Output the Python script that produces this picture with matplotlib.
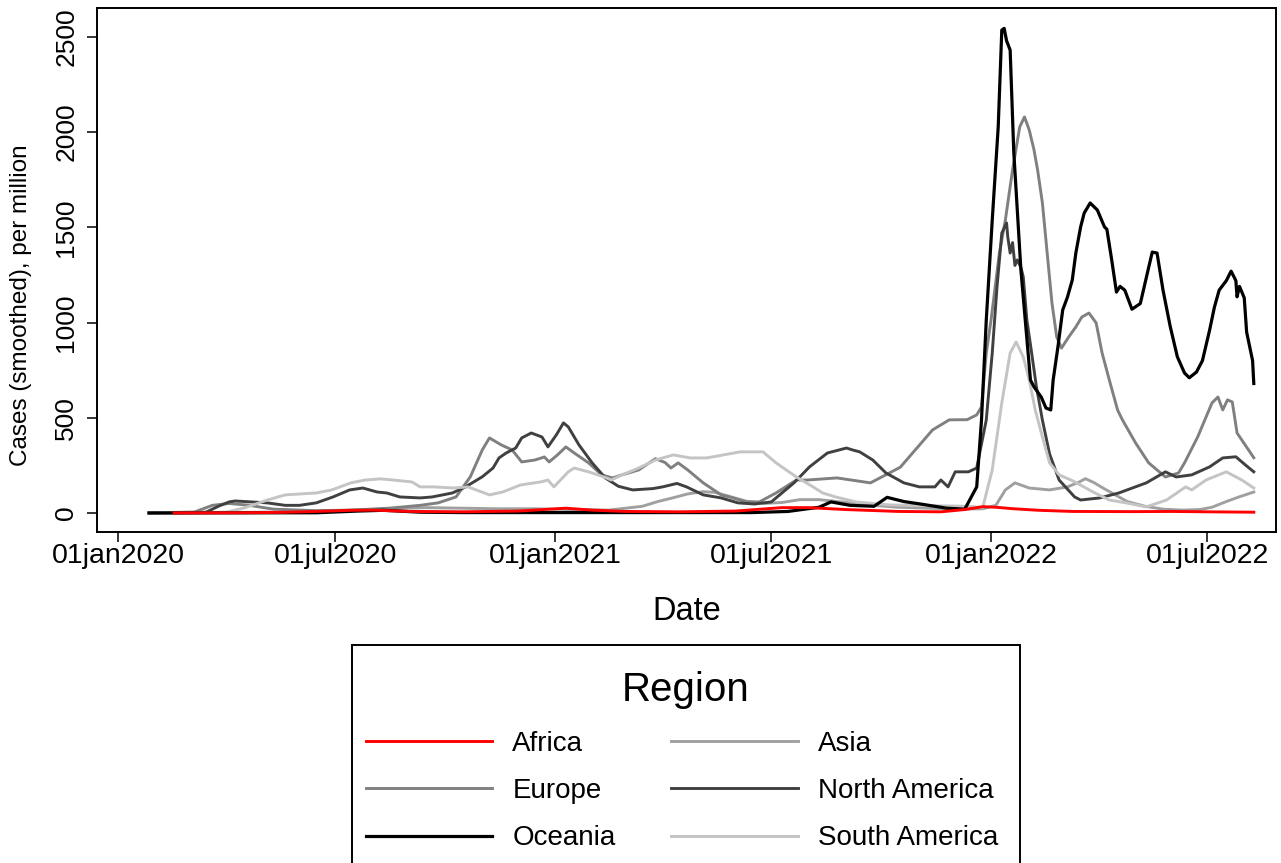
import matplotlib
matplotlib.use("Agg")
import matplotlib.pyplot as plt
import pandas as pd
from matplotlib.patches import Rectangle

# -----------------------------------------
# Data (date, cases per million, smoothed)
# -----------------------------------------
africa = [
    ("2020-02-17", 0), ("2020-04-15", 1), ("2020-05-15", 3), ("2020-06-15", 8),
    ("2020-07-15", 14), ("2020-08-01", 15), ("2020-09-01", 8), ("2020-10-15", 6),
    ("2020-12-01", 10), ("2021-01-10", 25), ("2021-02-01", 15), ("2021-03-01", 8),
    ("2021-04-15", 6), ("2021-06-01", 10), ("2021-07-10", 28), ("2021-08-01", 28),
    ("2021-09-01", 18), ("2021-10-15", 8), ("2021-11-20", 6), ("2021-12-10", 18),
    ("2021-12-25", 33), ("2022-01-05", 30), ("2022-01-20", 22), ("2022-02-10", 14),
    ("2022-03-10", 8), ("2022-05-01", 7), ("2022-06-01", 8), ("2022-07-01", 6),
    ("2022-08-09", 4),
]

asia = [
    ("2020-01-27", 0), ("2020-03-01", 1), ("2020-04-15", 3), ("2020-06-01", 6),
    ("2020-07-15", 15), ("2020-08-15", 22), ("2020-09-15", 28), ("2020-10-15", 25),
    ("2020-11-15", 22), ("2020-12-15", 22), ("2021-01-15", 18), ("2021-02-15", 15),
    ("2021-03-01", 25), ("2021-03-15", 35), ("2021-03-28", 60), ("2021-04-10", 80),
    ("2021-04-22", 100), ("2021-05-05", 112), ("2021-05-15", 108), ("2021-05-28", 85),
    ("2021-06-10", 62), ("2021-06-25", 50), ("2021-07-10", 55), ("2021-07-25", 70),
    ("2021-08-10", 70), ("2021-08-25", 60), ("2021-09-10", 50), ("2021-09-25", 40),
    ("2021-10-15", 30), ("2021-11-10", 25), ("2021-12-01", 20), ("2021-12-25", 22),
    ("2022-01-05", 40), ("2022-01-13", 121), ("2022-01-21", 158), ("2022-02-02", 131),
    ("2022-02-19", 121), ("2022-03-06", 137), ("2022-03-16", 163), ("2022-03-21", 180),
    ("2022-03-28", 160), ("2022-04-05", 130), ("2022-04-15", 95), ("2022-04-25", 60),
    ("2022-05-10", 35), ("2022-05-25", 20), ("2022-06-10", 15), ("2022-06-25", 18),
    ("2022-07-05", 30), ("2022-07-17", 60), ("2022-07-28", 85), ("2022-08-09", 110),
]

europe = [
    ("2020-01-27", 0), ("2020-03-05", 5), ("2020-03-20", 40), ("2020-04-03", 50),
    ("2020-04-20", 40), ("2020-05-10", 20), ("2020-06-15", 12), ("2020-07-15", 15),
    ("2020-08-15", 25), ("2020-09-10", 40), ("2020-09-25", 53), ("2020-10-10", 84),
    ("2020-10-22", 190), ("2020-11-01", 331), ("2020-11-07", 394), ("2020-11-14", 368),
    ("2020-11-17", 357), ("2020-11-26", 331), ("2020-12-04", 268), ("2020-12-15", 278),
    ("2020-12-23", 294), ("2020-12-27", 268), ("2021-01-03", 305), ("2021-01-10", 347),
    ("2021-01-17", 315), ("2021-01-29", 263), ("2021-02-09", 200), ("2021-02-18", 184),
    ("2021-02-26", 200), ("2021-03-12", 226), ("2021-03-26", 285), ("2021-04-03", 265),
    ("2021-04-08", 236), ("2021-04-14", 263), ("2021-04-22", 226), ("2021-05-05", 158),
    ("2021-05-20", 95), ("2021-05-27", 84), ("2021-06-10", 58), ("2021-06-21", 58),
    ("2021-07-05", 105), ("2021-07-22", 173), ("2021-07-31", 173), ("2021-08-25", 184),
    ("2021-09-22", 158), ("2021-10-17", 240), ("2021-11-13", 436), ("2021-11-27", 489),
    ("2021-12-12", 490), ("2021-12-20", 515), ("2021-12-24", 557), ("2021-12-28", 840),
    ("2022-01-01", 1013), ("2022-01-08", 1365), ("2022-01-13", 1539), ("2022-01-19", 1801),
    ("2022-01-25", 2027), ("2022-01-29", 2080), ("2022-02-02", 2011), ("2022-02-06", 1906),
    ("2022-02-09", 1801), ("2022-02-13", 1628), ("2022-02-17", 1365), ("2022-02-21", 1103),
    ("2022-02-25", 924), ("2022-03-01", 866), ("2022-03-07", 924), ("2022-03-13", 977),
    ("2022-03-18", 1029), ("2022-03-24", 1050), ("2022-03-30", 998), ("2022-04-04", 840),
    ("2022-04-10", 699), ("2022-04-17", 540), ("2022-04-21", 489), ("2022-05-02", 368),
    ("2022-05-13", 263), ("2022-05-27", 189), ("2022-06-07", 210), ("2022-06-12", 263),
    ("2022-06-23", 399), ("2022-07-05", 578), ("2022-07-10", 609), ("2022-07-14", 541),
    ("2022-07-18", 594), ("2022-07-22", 583), ("2022-07-26", 420), ("2022-08-09", 290),
]

north_america = [
    ("2020-01-27", 0), ("2020-03-10", 2), ("2020-03-15", 5), ("2020-03-25", 35),
    ("2020-04-03", 58), ("2020-04-08", 63), ("2020-05-05", 53), ("2020-05-20", 40),
    ("2020-06-01", 40), ("2020-06-15", 53), ("2020-06-29", 84), ("2020-07-13", 121),
    ("2020-07-24", 131), ("2020-08-05", 110), ("2020-08-13", 105), ("2020-08-24", 84),
    ("2020-09-10", 79), ("2020-09-20", 84), ("2020-10-07", 105), ("2020-10-18", 137),
    ("2020-11-01", 190), ("2020-11-10", 236), ("2020-11-15", 289), ("2020-11-21", 315),
    ("2020-11-29", 341), ("2020-12-04", 394), ("2020-12-12", 420), ("2020-12-21", 399),
    ("2020-12-26", 347), ("2021-01-02", 410), ("2021-01-08", 473), ("2021-01-12", 452),
    ("2021-01-21", 357), ("2021-02-01", 263), ("2021-02-12", 184), ("2021-02-23", 140),
    ("2021-03-07", 121), ("2021-03-24", 128), ("2021-04-01", 137), ("2021-04-13", 155),
    ("2021-04-21", 137), ("2021-05-05", 95), ("2021-05-20", 79), ("2021-06-03", 53),
    ("2021-06-17", 47), ("2021-07-01", 58), ("2021-07-20", 158), ("2021-08-02", 242),
    ("2021-08-17", 315), ("2021-09-02", 341), ("2021-09-07", 331), ("2021-09-13", 321),
    ("2021-09-24", 278), ("2021-10-05", 210), ("2021-10-20", 158), ("2021-11-02", 137),
    ("2021-11-15", 137), ("2021-11-20", 173), ("2021-11-26", 137), ("2021-12-02", 216),
    ("2021-12-13", 216), ("2021-12-20", 236), ("2021-12-23", 331), ("2021-12-28", 488),
    ("2022-01-02", 840), ("2022-01-06", 1187), ("2022-01-10", 1470), ("2022-01-14", 1523),
    ("2022-01-15", 1450), ("2022-01-17", 1365), ("2022-01-19", 1420), ("2022-01-21", 1300),
    ("2022-01-23", 1329), ("2022-01-26", 1290), ("2022-01-28", 1239), ("2022-01-31", 1013),
    ("2022-02-04", 840), ("2022-02-08", 662), ("2022-02-13", 488), ("2022-02-19", 310),
    ("2022-02-27", 173), ("2022-03-12", 84), ("2022-03-17", 68), ("2022-04-02", 79),
    ("2022-04-18", 105), ("2022-05-11", 158), ("2022-05-27", 216), ("2022-06-05", 189),
    ("2022-06-18", 200), ("2022-07-03", 242), ("2022-07-14", 289), ("2022-07-25", 295),
    ("2022-08-02", 252), ("2022-08-09", 216),
]

oceania = [
    ("2020-01-27", 0), ("2020-06-15", 1), ("2020-07-20", 10), ("2020-08-10", 14),
    ("2020-09-10", 4), ("2020-10-15", 2), ("2021-06-15", 2), ("2021-07-15", 8),
    ("2021-08-10", 30), ("2021-08-20", 58), ("2021-09-05", 40), ("2021-09-25", 35),
    ("2021-10-06", 82), ("2021-10-20", 60), ("2021-11-05", 45), ("2021-11-25", 25),
    ("2021-12-10", 20), ("2021-12-20", 137), ("2021-12-24", 488), ("2021-12-28", 1013),
    ("2022-01-02", 1538), ("2022-01-07", 2027), ("2022-01-10", 2536), ("2022-01-12", 2545),
    ("2022-01-14", 2480), ("2022-01-17", 2431), ("2022-01-20", 1900), ("2022-01-26", 1276),
    ("2022-02-03", 698), ("2022-02-06", 662), ("2022-02-12", 609), ("2022-02-16", 551),
    ("2022-02-20", 541), ("2022-02-22", 698), ("2022-02-26", 872), ("2022-03-02", 1066),
    ("2022-03-06", 1134), ("2022-03-10", 1223), ("2022-03-13", 1365), ("2022-03-17", 1502),
    ("2022-03-20", 1575), ("2022-03-25", 1628), ("2022-03-31", 1591), ("2022-04-06", 1502),
    ("2022-04-08", 1490), ("2022-04-12", 1330), ("2022-04-16", 1160), ("2022-04-19", 1190),
    ("2022-04-23", 1170), ("2022-04-29", 1070), ("2022-05-06", 1100), ("2022-05-13", 1290),
    ("2022-05-16", 1370), ("2022-05-20", 1365), ("2022-05-25", 1170), ("2022-05-31", 980),
    ("2022-06-06", 820), ("2022-06-12", 735), ("2022-06-16", 710), ("2022-06-22", 740),
    ("2022-06-27", 800), ("2022-07-03", 960), ("2022-07-07", 1080), ("2022-07-11", 1170),
    ("2022-07-17", 1220), ("2022-07-21", 1270), ("2022-07-25", 1220), ("2022-07-26", 1135),
    ("2022-07-28", 1190), ("2022-08-01", 1130), ("2022-08-03", 950), ("2022-08-08", 800),
    ("2022-08-09", 680),
]

south_america = [
    ("2020-01-27", 0), ("2020-03-15", 1), ("2020-04-01", 5), ("2020-04-15", 25),
    ("2020-05-05", 68), ("2020-05-20", 95), ("2020-06-15", 105), ("2020-06-28", 121),
    ("2020-07-14", 158), ("2020-07-26", 173), ("2020-08-08", 179), ("2020-08-20", 172),
    ("2020-09-03", 163), ("2020-09-10", 137), ("2020-09-21", 137), ("2020-10-08", 131),
    ("2020-10-20", 137), ("2020-11-07", 95), ("2020-11-18", 110), ("2020-12-03", 147),
    ("2020-12-20", 163), ("2020-12-26", 173), ("2020-12-31", 137), ("2021-01-12", 216),
    ("2021-01-17", 236), ("2021-01-29", 216), ("2021-02-11", 189), ("2021-02-17", 173),
    ("2021-02-26", 200), ("2021-03-12", 236), ("2021-03-26", 278), ("2021-04-10", 305),
    ("2021-04-24", 289), ("2021-05-08", 289), ("2021-05-22", 305), ("2021-06-05", 321),
    ("2021-06-24", 321), ("2021-07-05", 263), ("2021-07-22", 189), ("2021-08-05", 137),
    ("2021-08-13", 105), ("2021-08-24", 84), ("2021-09-10", 58), ("2021-10-08", 42),
    ("2021-12-13", 35), ("2021-12-25", 28), ("2022-01-02", 226), ("2022-01-10", 578),
    ("2022-01-17", 840), ("2022-01-22", 898), ("2022-01-28", 819), ("2022-02-02", 699),
    ("2022-02-07", 541), ("2022-02-13", 400), ("2022-02-19", 263), ("2022-02-27", 200),
    ("2022-03-10", 170), ("2022-03-29", 105), ("2022-04-10", 68), ("2022-04-24", 53),
    ("2022-05-11", 32), ("2022-05-28", 68), ("2022-06-13", 137), ("2022-06-18", 121),
    ("2022-06-30", 173), ("2022-07-17", 216), ("2022-07-30", 173), ("2022-08-09", 131),
]

regions = ["Africa", "Asia", "Europe", "North America", "Oceania", "South America"]
series = [africa, asia, europe, north_america, oceania, south_america]
colors = ["#ff0000", "#a0a0a0", "#808080", "#404040", "#000000", "#c4c4c4"]
legend_order = ["Africa", "Europe", "Oceania", "Asia", "North America", "South America"]

y_ticks = [0, 500, 1000, 1500, 2000, 2500]
x_ticks = ["2020-01-01", "2020-07-01", "2021-01-01", "2021-07-01", "2022-01-01", "2022-07-01"]

plt.rcParams["font.family"] = ["Liberation Sans", "DejaVu Sans"]

# -----------------------------------------
# Figure
# -----------------------------------------
W, H = 1281, 863
fig = plt.figure(figsize=(W / 100, H / 100), dpi=100)
ax = fig.add_axes([97 / W, 1 - 532 / H, (1276 - 97) / W, (532 - 8) / H])

# Africa sits on top, then Oceania, then the grey regions
zorders = {"Africa": 5, "Oceania": 4}

lines = {}
for name, data, col in zip(regions, series, colors):
    df = pd.DataFrame(data, columns=["date", "value"])
    df["date"] = pd.to_datetime(df["date"])
    lw = 2.3 if name == "Oceania" else 2.1
    (ln,) = ax.plot(df["date"], df["value"], color=col, lw=lw,
                    zorder=zorders.get(name, 3), solid_joinstyle="round")
    lines[name] = ln

start = pd.Timestamp("2020-01-01")
ax.set_xlim(start - pd.Timedelta(days=17.6), start + pd.Timedelta(days=969.6))
ax.set_ylim(-100, 2652)

tick_dates = pd.to_datetime(x_ticks)
ax.set_xticks(tick_dates)
ax.set_xticklabels([d.strftime("%d%b%Y").lower() for d in tick_dates])
ax.set_yticks(y_ticks)
ax.set_yticklabels([str(v) for v in y_ticks], rotation=90, va="center")

ax.tick_params(axis="x", length=7, width=1.1, pad=1, labelsize=20.5)
ax.tick_params(axis="y", length=7.5, width=1.1, pad=6, labelsize=19)
for s in ax.spines.values():
    s.set_linewidth(1.4)

ax.set_xlabel("Date", fontsize=23.5, labelpad=19)
ax.set_ylabel("Cases (smoothed), per million", fontsize=17.5)
# anchor is the right-hand edge of the rotated label
ax.yaxis.set_label_coords((32 - 97) / 1179, (532 - 305) / 524)

# -----------------------------------------
# Legend: frame, title and entries
# -----------------------------------------
fig.add_artist(Rectangle((352 / W, 1 - 880 / H), (1020 - 352) / W, (880 - 645) / H,
                         transform=fig.transFigure, fill=False,
                         edgecolor="black", linewidth=1.4))
fig.text(686 / W, 1 - 690 / H, "Region", ha="center", va="center", fontsize=29)

leg = fig.legend([lines[n] for n in legend_order], legend_order,
                 loc="upper left", bbox_to_anchor=(366 / W, 1 - 731 / H),
                 ncol=2, frameon=False, fontsize=20,
                 handlelength=4.55, handletextpad=0.72, columnspacing=2.0,
                 borderpad=0, labelspacing=0.76, borderaxespad=0)

fig.savefig("out.png", dpi=100, facecolor="white")
